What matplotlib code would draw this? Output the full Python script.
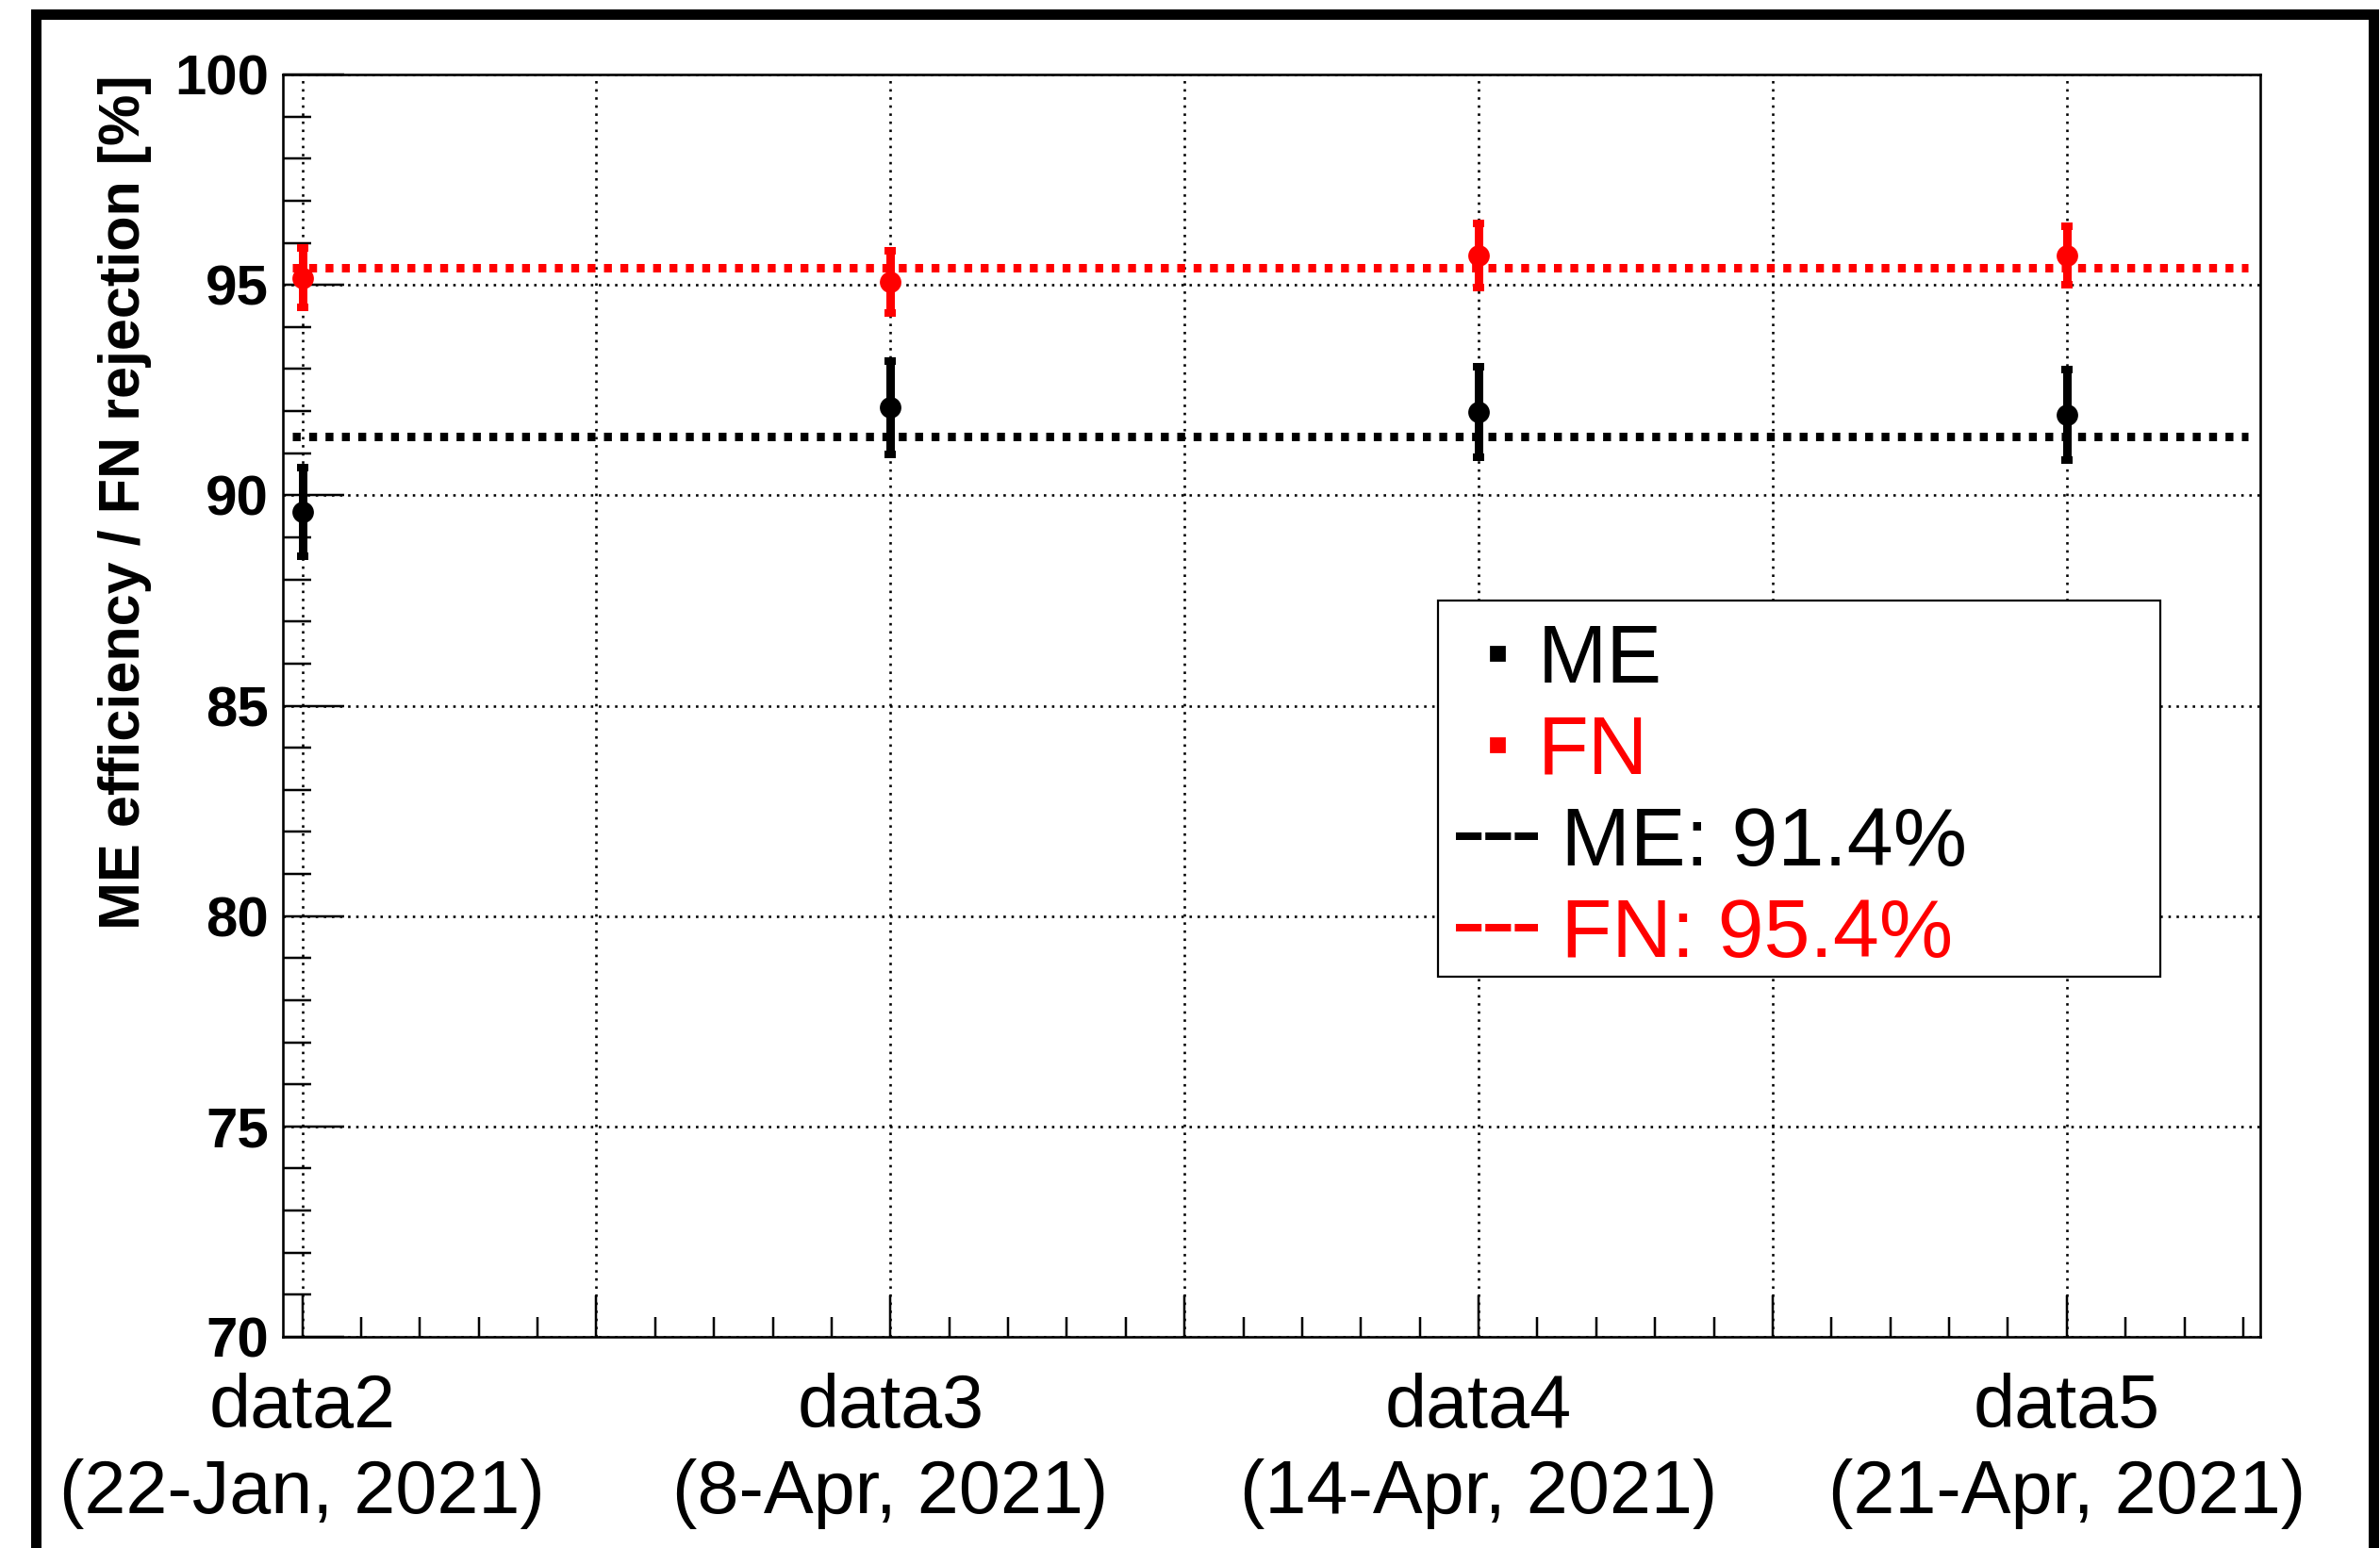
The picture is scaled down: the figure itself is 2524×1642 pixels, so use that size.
import matplotlib
matplotlib.use("Agg")
import matplotlib.pyplot as plt
from matplotlib.lines import Line2D
from matplotlib.patches import Rectangle
from matplotlib.ticker import MultipleLocator, FixedLocator, FixedFormatter

# ---------------- data ----------------
categories = ["data2\n(22-Jan, 2021)", "data3\n(8-Apr, 2021)",
              "data4\n(14-Apr, 2021)", "data5\n(21-Apr, 2021)"]
x_pos = [0, 1, 2, 3]
me_values = [89.60, 92.08, 91.98, 91.91]
me_errors = [1.05, 1.11, 1.08, 1.08]
fn_values = [95.17, 95.07, 95.70, 95.70]
fn_errors = [0.71, 0.74, 0.77, 0.70]
me_average = 91.4
fn_average = 95.4
legend_labels = ["ME", "FN", "ME: 91.4%", "FN: 95.4%"]
y_label = "ME efficiency / FN rejection [%]"

# ---------------- style ----------------
plt.rcParams["font.family"] = ["Liberation Sans", "DejaVu Sans"]
DPI = 200
W, H = 2524, 1642
px = 72.0 / DPI  # points per pixel

fig = plt.figure(figsize=(W / DPI, H / DPI), dpi=DPI)
ax_l, ax_r, ax_t, ax_b = 300, 2397, 79, 1418
ax = fig.add_axes([ax_l / W, 1 - ax_b / H, (ax_r - ax_l) / W, (ax_b - ax_t) / H])

ax.set_xlim(-0.033, 3.329)
ax.set_ylim(70, 100)

# x ticks: majors every 0.5 (labels on integer categories), minors every 0.1
major_x = [i * 0.5 for i in range(7)]
major_labels = []
for i in range(7):
    major_labels.append(categories[i // 2] if i % 2 == 0 else "")
ax.xaxis.set_major_locator(FixedLocator(major_x))
ax.xaxis.set_major_formatter(FixedFormatter(major_labels))
ax.xaxis.set_minor_locator(MultipleLocator(0.1))
ax.yaxis.set_major_locator(MultipleLocator(5))
ax.yaxis.set_minor_locator(MultipleLocator(1))

ax.tick_params(axis="x", which="major", direction="in", length=44 * px, width=2.5 * px,
               pad=38 * px, labelsize=28.5, top=False)
ax.tick_params(axis="x", which="minor", direction="in", length=21 * px, width=2.5 * px, top=False)
ax.tick_params(axis="y", which="major", direction="in", length=65 * px, width=2.5 * px,
               pad=15 * px, labelsize=21.6, right=False)
ax.tick_params(axis="y", which="minor", direction="in", length=30 * px, width=2.5 * px, right=False)
for lab in ax.get_xticklabels():
    lab.set_linespacing(1.27)
for lab in ax.get_yticklabels():
    lab.set_fontweight("bold")

for sp in ax.spines.values():
    sp.set_linewidth(2.6 * px)

ax.set_axisbelow(True)
ax.grid(True, which="major", color="black", linewidth=2.6 * px, linestyle=(0, (1, 2.3)))

# average lines
ax.axhline(fn_average, xmin=0.005, xmax=0.994, color="red", lw=9 * px,
           linestyle=(0, (0.93, 1.0)), zorder=2)
ax.axhline(me_average, xmin=0.005, xmax=0.994, color="black", lw=9 * px,
           linestyle=(0, (0.93, 1.0)), zorder=2)

# data points
ax.errorbar(x_pos, me_values, yerr=me_errors, fmt="o", color="black", ms=20 * px,
            elinewidth=9 * px, capsize=6 * px, capthick=8 * px, zorder=3)
ax.errorbar(x_pos, fn_values, yerr=fn_errors, fmt="o", color="red", ms=20 * px,
            elinewidth=9 * px, capsize=6 * px, capthick=8 * px, zorder=3)

# y label
ax.set_ylabel(y_label, fontsize=22, fontweight="bold", loc="top")
ax.yaxis.set_label_coords(-0.0663, 1.0)

# legend box
box_l, box_r, box_t, box_b = 1525, 2291, 637, 1036
def ax_x(p):
    return (p - ax_l) / (ax_r - ax_l)
def ax_y(p):
    return 1 - (p - ax_t) / (ax_b - ax_t)
ax.add_patch(Rectangle((ax_x(box_l), ax_y(box_b)), ax_x(box_r) - ax_x(box_l),
                       ax_y(box_t) - ax_y(box_b), transform=ax.transAxes,
                       facecolor="white", edgecolor="black", lw=2.2 * px, zorder=4))

handles = [
    Line2D([], [], ls="none", marker="s", color="black", ms=14 * px),
    Line2D([], [], ls="none", marker="s", color="red", ms=14 * px),
    Line2D([], [], color="black", lw=8 * px, linestyle=(0, (3.4, 0.5))),
    Line2D([], [], color="red", lw=8 * px, linestyle=(0, (3.4, 0.5))),
]
labels = [legend_labels[0], legend_labels[1], " " + legend_labels[2], " " + legend_labels[3]]
leg = ax.legend(handles, labels, loc="upper left",
                bbox_to_anchor=(ax_x(1544), ax_y(661)), borderaxespad=0, borderpad=0,
                frameon=False, handlelength=0.99, handleheight=0.7, handletextpad=0.0,
                labelspacing=0.18, fontsize=31.7,
                labelcolor=["black", "red", "black", "red"])
leg.set_zorder(5)

# outer canvas frame
fig.add_artist(Rectangle((37.5 / W, -0.05), (2517 - 37.5) / W, 1.05 - 15.5 / H,
                         transform=fig.transFigure, fill=False, edgecolor="black",
                         lw=11 * px, clip_on=False))

fig.savefig("out.png", dpi=DPI, facecolor="white")
